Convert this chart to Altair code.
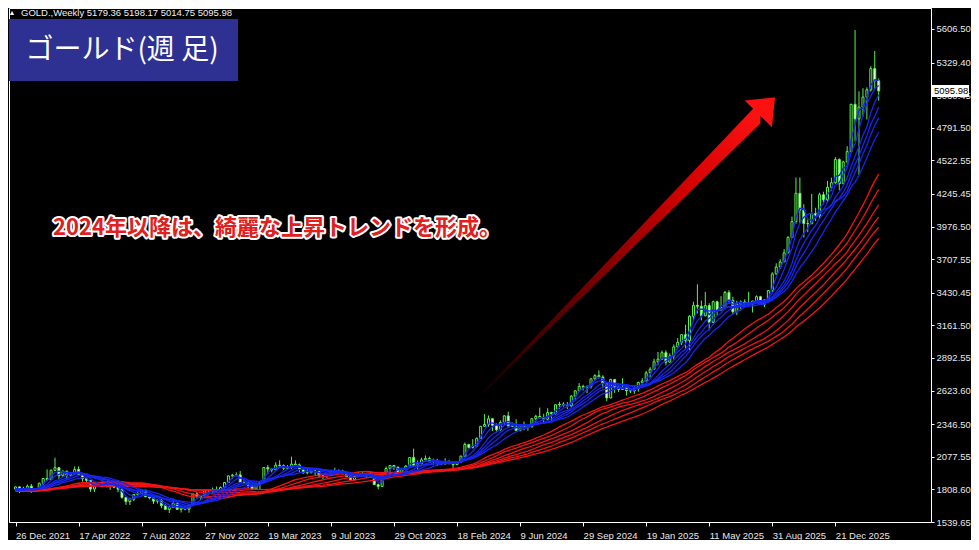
import altair as alt
import pandas as pd

# ---------------- data ----------------
# weekly closes before the first visible candle (only used to warm up the moving averages)
warmup_close_2021 = [1895, 1850, 1828, 1856, 1848, 1814, 1824, 1784, 1734, 1700, 1727, 1745, 1733,
                     1729, 1744, 1777, 1777, 1769, 1831, 1843, 1881, 1903, 1892, 1877, 1764, 1781,
                     1784, 1808, 1812, 1802, 1814, 1763, 1780, 1781, 1818, 1827, 1787, 1754, 1750,
                     1761, 1757, 1768, 1793, 1783, 1818, 1868, 1846, 1788, 1784, 1783, 1798, 1811]

# weekly candles (open, high, low, close), first candle = week of 26 Dec 2021
ohlc_2021 = [(1811, 1831, 1802, 1829)]
ohlc_2022 = [
    (1829, 1831, 1778, 1797), (1797, 1830, 1792, 1817), (1817, 1848, 1806, 1835), (1835, 1853, 1780, 1791),
    (1791, 1815, 1788, 1808), (1808, 1865, 1807, 1859), (1859, 1902, 1843, 1898), (1898, 1974, 1878, 1889),
    (1889, 1973, 1889, 1966), (1966, 2070, 1960, 1988), (1988, 1991, 1895, 1921), (1921, 1966, 1910, 1958),
    (1958, 1966, 1890, 1925), (1925, 1950, 1915, 1945), (1945, 1998, 1940, 1974), (1974, 1998, 1925, 1932),
    (1932, 1936, 1872, 1897), (1897, 1910, 1850, 1883), (1883, 1884, 1788, 1811), (1811, 1850, 1787, 1846),
    (1846, 1870, 1838, 1853), (1853, 1875, 1828, 1851), (1851, 1877, 1825, 1871), (1871, 1880, 1805, 1840),
    (1840, 1848, 1818, 1827), (1827, 1835, 1785, 1811), (1811, 1814, 1732, 1742), (1742, 1746, 1681, 1708),
    (1708, 1740, 1680, 1727), (1727, 1768, 1711, 1766), (1766, 1788, 1754, 1775), (1775, 1807, 1771, 1802),
    (1802, 1804, 1745, 1747), (1747, 1765, 1727, 1738), (1738, 1740, 1688, 1712), (1712, 1729, 1691, 1716),
    (1716, 1735, 1654, 1675), (1675, 1688, 1639, 1644), (1644, 1676, 1614, 1661), (1661, 1730, 1660, 1695),
    (1695, 1697, 1640, 1644), (1644, 1673, 1618, 1657), (1657, 1675, 1636, 1645), (1645, 1683, 1616, 1681),
    (1681, 1774, 1673, 1771), (1771, 1786, 1737, 1751), (1751, 1760, 1721, 1755), (1755, 1805, 1745, 1798),
    (1798, 1810, 1767, 1797), (1797, 1824, 1773, 1793), (1793, 1833, 1785, 1798), (1798, 1833, 1797, 1824),
]
ohlc_2023 = [
    (1824, 1865, 1824, 1865), (1865, 1922, 1865, 1920), (1920, 1937, 1896, 1926), (1926, 1949, 1916, 1928),
    (1928, 1960, 1861, 1865), (1865, 1890, 1852, 1865), (1865, 1870, 1819, 1842), (1842, 1848, 1809, 1811),
    (1811, 1858, 1804, 1856), (1856, 1870, 1810, 1868), (1868, 1990, 1867, 1989), (1989, 2009, 1934, 1978),
    (1978, 1986, 1949, 1969), (1969, 2032, 1968, 2008), (2008, 2048, 1993, 2004), (2004, 2015, 1969, 1983),
    (1983, 2009, 1974, 1990), (1990, 2079, 1978, 2017), (2017, 2048, 2007, 2011), (2011, 2022, 1952, 1978),
    (1978, 1985, 1937, 1946), (1946, 1983, 1932, 1948), (1948, 1970, 1938, 1961), (1961, 1971, 1925, 1958),
    (1958, 1958, 1911, 1921), (1921, 1933, 1893, 1919), (1919, 1935, 1902, 1925), (1925, 1963, 1922, 1955),
    (1955, 1988, 1952, 1962), (1962, 1974, 1942, 1959), (1959, 1970, 1929, 1943), (1943, 1948, 1910, 1914),
    (1914, 1916, 1885, 1889), (1889, 1925, 1885, 1915), (1915, 1953, 1914, 1940), (1940, 1953, 1915, 1919),
    (1919, 1932, 1901, 1924), (1924, 1947, 1913, 1925), (1925, 1936, 1846, 1848), (1848, 1857, 1810, 1833),
    (1833, 1933, 1833, 1932), (1932, 1997, 1908, 1981), (1981, 2009, 1954, 2006), (2006, 2010, 1970, 1993),
    (1993, 1993, 1932, 1940), (1940, 1988, 1932, 1981), (1981, 2008, 1965, 2001), (2001, 2075, 1998, 2072),
    (2072, 2145, 1994, 2004), (2004, 2047, 1973, 2020), (2020, 2070, 2016, 2053), (2053, 2088, 2052, 2063),
    (2063, 2079, 2030, 2045),
]
ohlc_2024 = [
    (2045, 2062, 2013, 2049), (2049, 2060, 2002, 2029), (2029, 2042, 2010, 2018), (2018, 2065, 2016, 2039),
    (2039, 2050, 2015, 2024), (2024, 2032, 1984, 2013), (2013, 2041, 2010, 2035), (2035, 2088, 2025, 2083),
    (2083, 2195, 2079, 2179), (2179, 2185, 2146, 2155), (2155, 2223, 2146, 2165), (2165, 2236, 2160, 2230),
    (2230, 2330, 2228, 2329), (2329, 2431, 2325, 2344), (2344, 2418, 2325, 2391), (2391, 2395, 2291, 2337),
    (2337, 2353, 2277, 2301), (2301, 2378, 2292, 2360), (2360, 2422, 2342, 2415), (2415, 2450, 2325, 2333),
    (2333, 2364, 2323, 2327), (2327, 2387, 2286, 2294), (2294, 2342, 2287, 2333), (2333, 2369, 2296, 2322),
    (2322, 2340, 2293, 2326), (2326, 2393, 2319, 2392), (2392, 2424, 2353, 2411), (2411, 2483, 2393, 2401),
    (2401, 2432, 2353, 2387), (2387, 2478, 2380, 2443), (2443, 2449, 2364, 2431), (2431, 2509, 2428, 2507),
    (2507, 2531, 2470, 2512), (2512, 2528, 2491, 2503), (2503, 2529, 2471, 2497), (2497, 2586, 2486, 2578),
    (2578, 2625, 2547, 2622), (2622, 2685, 2615, 2658), (2658, 2672, 2624, 2653), (2653, 2666, 2603, 2657),
    (2657, 2722, 2640, 2721), (2721, 2759, 2709, 2747), (2747, 2790, 2722, 2736), (2736, 2750, 2643, 2685),
    (2685, 2693, 2536, 2563), (2563, 2721, 2560, 2715), (2715, 2721, 2605, 2650), (2650, 2665, 2613, 2633),
    (2633, 2726, 2632, 2648), (2648, 2664, 2583, 2622), (2622, 2639, 2603, 2621), (2621, 2665, 2597, 2640),
]
ohlc_2025 = [
    (2640, 2697, 2614, 2690), (2690, 2726, 2656, 2703), (2703, 2786, 2700, 2770), (2770, 2817, 2730, 2800),
    (2800, 2886, 2795, 2861), (2861, 2942, 2833, 2883), (2883, 2954, 2877, 2936), (2936, 2956, 2832, 2858),
    (2858, 2930, 2857, 2910), (2910, 3004, 2880, 2984), (2984, 3057, 2982, 3022), (3022, 3086, 3000, 3085),
    (3085, 3167, 2971, 3037), (3037, 3245, 2957, 3237), (3237, 3357, 3195, 3327), (3327, 3500, 3260, 3319),
    (3319, 3367, 3202, 3240), (3240, 3438, 3238, 3325), (3325, 3345, 3120, 3187), (3187, 3366, 3180, 3357),
    (3357, 3366, 3245, 3290), (3290, 3403, 3283, 3310), (3310, 3446, 3294, 3433), (3433, 3452, 3340, 3368),
    (3368, 3398, 3255, 3274), (3274, 3365, 3246, 3337), (3337, 3368, 3283, 3355), (3355, 3377, 3310, 3350),
    (3350, 3439, 3325, 3337), (3337, 3363, 3268, 3363), (3363, 3409, 3350, 3398), (3398, 3405, 3330, 3336),
    (3336, 3378, 3312, 3371), (3371, 3453, 3351, 3448), (3448, 3600, 3436, 3586), (3586, 3674, 3578, 3643),
    (3643, 3707, 3627, 3685), (3685, 3791, 3684, 3760), (3760, 3897, 3757, 3886), (3886, 4059, 3885, 4018),
    (4018, 4380, 4000, 4251), (4251, 4382, 4004, 4113), (4113, 4161, 3886, 4002), (4002, 4035, 3930, 4000),
    (4000, 4245, 3997, 4085), (4085, 4132, 4022, 4065), (4065, 4256, 4040, 4239), (4239, 4264, 4160, 4197),
    (4197, 4353, 4170, 4300), (4300, 4380, 4270, 4338), (4338, 4550, 4330, 4530), (4530, 4540, 4275, 4330),
]
ohlc_2026 = [
    (4330, 4520, 4330, 4510), (4510, 4640, 4500, 4595), (4595, 4990, 4590, 4985), (4985, 5598, 4680, 4865),
    (4865, 5092, 4402, 4962), (4962, 5118, 4885, 5045), (5045, 5125, 4860, 5105), (5105, 5300, 5090, 5280),
    (5280, 5425, 5110, 5179), (5179.36, 5198.17, 5014.75, 5095.98),
]

date_labels = ["26 Dec 2021", "17 Apr 2022", "7 Aug 2022", "27 Nov 2022", "19 Mar 2023", "9 Jul 2023",
               "29 Oct 2023", "18 Feb 2024", "9 Jun 2024", "29 Sep 2024", "19 Jan 2025", "11 May 2025",
               "31 Aug 2025", "21 Dec 2025"]
price_ticks = [1539.65, 1808.60, 2077.55, 2346.50, 2623.60, 2892.55, 3161.50, 3430.45, 3707.55,
               3976.50, 4245.45, 4522.55, 4791.50, 5060.45, 5329.40, 5606.50]
short_periods = [3, 5, 8, 10, 12, 15]
long_periods = [27, 31, 36, 41, 46, 52]
current_price = [5095.98]

header_text = "GOLD.,Weekly  5179.36 5198.17 5014.75 5095.98"
box_title = "ゴールド(週 足)"
note_text = "2024年以降は、綺麗な上昇トレンドを形成。"

# arrow annotation (week index, price)
arrow_shaft_idx = [118.8, 189.0]
arrow_shaft_top = [2620, 5012]
arrow_shaft_bot = [2604, 4830]
arrow_head_idx = [185.0, 191.9, 192.7]
arrow_head_top = [5016, 5040, 5043]
arrow_head_bot = [5016, 4795, 5043]

# ---------------- tables ----------------
rows = []
for block in (ohlc_2021, ohlc_2022, ohlc_2023, ohlc_2024, ohlc_2025, ohlc_2026):
    for o, h, l, c in block:
        rows.append({"open": o, "high": h, "low": l, "close": c})
candles = pd.DataFrame(rows)
candles["idx"] = range(len(candles))
warm = pd.DataFrame({"idx": list(range(-len(warmup_close_2021), 0)), "close": warmup_close_2021})
closes = pd.concat([warm, candles[["idx", "close"]]], ignore_index=True)

shaft_df = pd.DataFrame({"idx": arrow_shaft_idx, "top": arrow_shaft_top, "bot": arrow_shaft_bot})
head_df = pd.DataFrame({"idx": arrow_head_idx, "top": arrow_head_top, "bot": arrow_head_bot})
one = pd.DataFrame({"k": [0]})
cur_df = pd.DataFrame({"price": current_price})

# ---------------- styling ----------------
W, H = 922, 514
LIME = "#5ef04e"
BLUE = "#1626f4"
RED = "#f21414"
AXF = "Liberation Sans, Arial, sans-serif"
CJK = "Noto Sans CJK JP"

xs = alt.Scale(domain=[-0.4, 231.0], nice=False, zero=False)
ys = alt.Scale(domain=[1539.65, 5779.7], nice=False, zero=False)
label_expr = "[" + ",".join("'%s'" % d for d in date_labels) + "][round(datum.value / 16)]"
xax = alt.Axis(values=[16 * i for i in range(len(date_labels))], labelExpr=label_expr, title=None,
               grid=False, labelAlign="left", labelBaseline="top", labelPadding=4, labelFlush=False,
               labelOverlap=False, labelFont=AXF, labelFontSize=9.5, labelColor="#e8e8e8",
               tickColor="#ffffff", tickSize=4, domainColor="#ffffff")
yax = alt.Axis(orient="right", values=price_ticks, format=".2f", title=None, grid=False,
               labelPadding=2, labelFont=AXF, labelFontSize=9.5, labelColor="#e8e8e8",
               labelOverlap=False, labelFlush=False, tickColor="#ffffff", tickSize=3,
               domainColor="#ffffff")


def X(field):
    return alt.X(field, type="quantitative", scale=xs, axis=xax)


def Y(field):
    return alt.Y(field, type="quantitative", scale=ys, axis=yax)


wicks = alt.Chart(candles).mark_rule(color=LIME, strokeWidth=1, clip=True).encode(
    x=X("idx"), y=Y("low"), y2="high:Q")
bodies = alt.Chart(candles).mark_bar(size=2, stroke=LIME, strokeWidth=1, clip=True).encode(
    x=X("idx"), y=Y("open"), y2="close:Q",
    fill=alt.condition("datum.close >= datum.open", alt.value("#000000"), alt.value("#ffffff")))

ma = alt.Chart(closes)
for p in long_periods + short_periods:
    ma = ma.transform_window(frame=[-(p - 1), 0], sort=[alt.SortField("idx", order="ascending")],
                             **{"ma%d" % p: "mean(close)"})
short_names = ["ma%d" % p for p in short_periods]
ma_lines = ma.transform_filter("datum.idx >= 0").transform_fold(
    ["ma%d" % p for p in long_periods + short_periods], as_=["ma", "value"]
).transform_calculate(
    grp="indexof(" + str(short_names) + ", datum.ma) >= 0 ? 'short' : 'long'"
).mark_line(strokeWidth=1.3, clip=True).encode(
    x=X("idx"), y=Y("value"), detail="ma:N",
    color=alt.Color("grp:N", scale=alt.Scale(domain=["long", "short"], range=[RED, BLUE]), legend=None))

shaft = alt.Chart(shaft_df).mark_area(
    clip=True,
    color=alt.Gradient(gradient="linear", x1=0, y1=1, x2=1, y2=0,
                       stops=[alt.GradientStop(color="#140000", offset=0),
                              alt.GradientStop(color="#6e0000", offset=0.35),
                              alt.GradientStop(color="#d00000", offset=0.7),
                              alt.GradientStop(color="#ff1414", offset=1)])
).encode(x=X("idx"), y=Y("top"), y2="bot:Q")
head = alt.Chart(head_df).mark_area(color="#ff1010", clip=True).encode(x=X("idx"), y=Y("top"), y2="bot:Q")

box = alt.Chart(one).mark_rect(color="#2e3192").encode(
    x=alt.value(0), x2=alt.value(229), y=alt.value(11), y2=alt.value(73))
box_text = alt.Chart(one).mark_text(text=box_title, font=CJK, fontSize=28, color="#ffffff",
                                    align="center", baseline="middle").encode(x=alt.value(113), y=alt.value(43))
tri = alt.Chart(one).mark_text(text="▲", fontSize=7, color="#ffffff", align="center",
                               baseline="middle").encode(x=alt.value(3), y=alt.value(5))
header = alt.Chart(one).mark_text(text=header_text, font=AXF, fontSize=9.5, color="#f0f0f0",
                                  align="left", baseline="middle").encode(x=alt.value(12), y=alt.value(5))
note_outline = alt.Chart(one).mark_text(text=note_text, font=CJK, fontSize=22, fontWeight="bold",
                                        color="#ffffff", stroke="#ffffff", strokeWidth=4, strokeJoin="round",
                                        align="center", baseline="middle").encode(x=alt.value(268), y=alt.value(220))
note = alt.Chart(one).mark_text(text=note_text, font=CJK, fontSize=22, fontWeight="bold", color="#e0201c",
                                align="center", baseline="middle").encode(x=alt.value(268), y=alt.value(220))

price_box = alt.Chart(cur_df).transform_calculate(
    top="datum.price + 49.5", bot="datum.price - 49.5"
).mark_rect(color="#ffffff").encode(x=alt.value(W + 1), x2=alt.value(W + 38), y=Y("top"), y2="bot:Q")
price_text = alt.Chart(cur_df).mark_text(font=AXF, fontSize=9.5, color="#000000", align="left",
                                         baseline="middle").encode(
    x=alt.value(W + 3), y=Y("price"), text=alt.Text("price:Q", format=".2f"))

chart = alt.layer(
    wicks, bodies, ma_lines, shaft, head, box, box_text, tri, header, note_outline, note, price_box, price_text
).properties(
    width=W, height=H, background="#000000",
    padding={"left": 0, "top": 0, "right": 0, "bottom": 0}
).configure_view(stroke="#ffffff", strokeWidth=1)

chart.save("out.html", embed_options={"renderer": "svg", "actions": False})
